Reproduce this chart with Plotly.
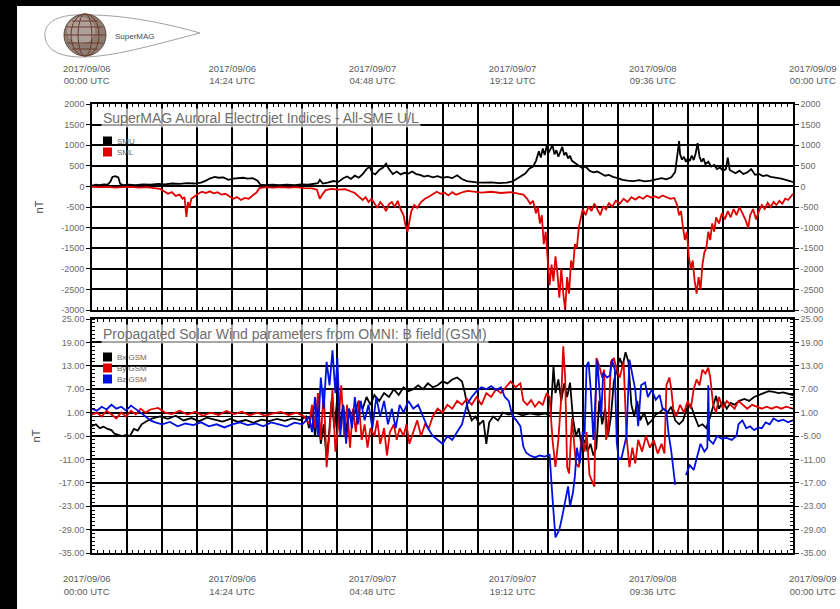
import pandas as pd
import plotly.graph_objects as go

# ---------------------------------------------------------------------------
# Data: hours after 2017-09-06 00:00 UTC and values in nT
# ---------------------------------------------------------------------------
smu_h = [0, 0.4, 0.8, 1.2, 1.6, 1.9, 2.1, 2.4, 2.7, 2.9,
         3.2, 3.8, 4.5, 5.2, 6.0, 6.8, 7.5, 8.2, 9.0, 9.8,
         10.5, 11.2, 11.7, 12.1, 12.6, 13.0, 13.5, 14.0, 14.5, 15.0,
         15.5, 16.0, 16.5, 17.0, 17.3, 17.8, 18.5, 19.3, 20.0, 20.8,
         21.5, 22.2, 22.8, 23.2, 23.4, 23.7, 24.2, 24.8, 25.3, 25.8,
         26.2, 26.6, 27.0, 27.4, 27.8, 28.2, 28.5, 28.8, 29.1, 29.5,
         29.9, 30.2, 30.5, 30.9, 31.3, 31.7, 32.1, 32.5, 32.9, 33.3,
         33.7, 34.1, 34.5, 35.0, 35.5, 36.0, 36.5, 37.0, 37.5, 38.0,
         38.5, 39.0, 39.5, 40.2, 41.0, 41.8, 42.6, 43.2, 43.7, 44.1,
         44.5, 44.9, 45.3, 45.6, 45.9, 46.1, 46.3, 46.5, 46.7, 46.9,
         47.1, 47.3, 47.5, 47.7, 47.9, 48.1, 48.3, 48.5, 48.7, 48.9,
         49.1, 49.3, 49.6, 49.9, 50.3, 50.7, 51.1, 51.5, 51.9, 52.3,
         52.7, 53.1, 53.5, 54.0, 54.5, 55.0, 55.6, 56.2, 56.8, 57.4,
         58.0, 58.5, 59.0, 59.5, 59.9, 60.1, 60.3, 60.4, 60.6, 60.8,
         61.0, 61.2, 61.4, 61.6, 61.8, 62.0, 62.2, 62.4, 62.6, 62.8,
         63.0, 63.3, 63.6, 63.9, 64.2, 64.5, 64.8, 65.1, 65.3, 65.5,
         65.8, 66.1, 66.5, 66.9, 67.3, 67.7, 68.1, 68.5, 68.9, 69.3,
         69.7, 70.1, 70.5, 70.9, 71.3, 71.7, 72.0]
smu_nt = [20, 40, 30, 50, 40, 120, 230, 250, 220, 60,
          30, 40, 30, 50, 40, 60, 50, 70, 60, 80,
          70, 90, 140, 190, 230, 210, 220, 160, 190, 200,
          210, 190, 200, 140, 40, 30, 40, 30, 40, 30,
          50, 40, 60, 80, 160, 70, 90, 130, 110, 200,
          240, 180, 260, 210, 300, 420, 480, 330, 290, 400,
          460, 550, 420, 300, 360, 290, 330, 310, 360, 300,
          280, 240, 260, 220, 250, 210, 230, 200, 270, 180,
          130, 110, 100, 90, 100, 80, 90, 120, 200, 260,
          310, 430, 480, 620, 850, 700, 920, 760, 980, 820,
          900, 1000, 780, 880, 720, 850, 960, 760, 820, 680,
          740, 620, 580, 520, 450, 480, 380, 340, 360, 300,
          260, 280, 230, 200, 160, 140, 130, 150, 120, 140,
          180, 200, 170, 220, 350, 700, 1100, 780, 650, 720,
          600, 680, 620, 750, 640, 800, 1050, 720, 600, 680,
          540, 600, 480, 520, 420, 460, 380, 420, 700, 400,
          360, 320, 380, 300, 340, 420, 280, 300, 250, 270,
          230, 220, 200, 180, 160, 130, 100]

sml_h = [0, 0.8, 1.6, 2.4, 3.2, 4.0, 4.8, 5.6, 6.4, 7.0,
         7.4, 7.8, 8.2, 8.6, 9.0, 9.3, 9.5, 9.7, 9.85, 10.0,
         10.2, 10.5, 10.9, 11.3, 11.7, 12.1, 12.5, 12.9, 13.3, 13.7,
         14.1, 14.5, 14.9, 15.3, 15.7, 16.1, 16.5, 16.9, 17.2, 17.8,
         18.6, 19.4, 20.2, 21.0, 21.8, 22.6, 23.1, 23.4, 23.7, 24.0,
         24.6, 25.3, 26.0, 26.6, 27.0, 27.4, 27.8, 28.1, 28.4, 28.7,
         29.0, 29.3, 29.6, 29.9, 30.2, 30.5, 30.8, 31.1, 31.4, 31.7,
         32.0, 32.2, 32.4, 32.6, 32.8, 33.1, 33.4, 33.8, 34.2, 34.6,
         35.0, 35.4, 35.8, 36.2, 36.6, 37.0, 37.4, 37.8, 38.2, 38.6,
         39.2, 40.0, 41.0, 42.0, 43.0, 43.8, 44.3, 44.7, 45.0, 45.3,
         45.6, 45.8, 46.0, 46.2, 46.4, 46.6, 46.8, 47.0, 47.2, 47.4,
         47.6, 47.8, 48.0, 48.2, 48.4, 48.6, 48.8, 49.0, 49.2, 49.4,
         49.6, 49.8, 50.0, 50.2, 50.4, 50.7, 51.0, 51.3, 51.6, 51.9,
         52.2, 52.5, 52.8, 53.1, 53.4, 53.8, 54.2, 54.6, 55.0, 55.4,
         55.8, 56.2, 56.6, 57.0, 57.4, 57.8, 58.2, 58.6, 59.0, 59.4,
         59.8, 60.1, 60.3, 60.5, 60.7, 60.9, 61.1, 61.3, 61.5, 61.7,
         61.9, 62.1, 62.3, 62.5, 62.7, 62.9, 63.1, 63.3, 63.5, 63.7,
         63.9, 64.1, 64.4, 64.7, 65.0, 65.3, 65.6, 65.9, 66.2, 66.5,
         66.8, 67.1, 67.4, 67.6, 67.9, 68.2, 68.5, 68.8, 69.1, 69.4,
         69.7, 70.0, 70.3, 70.6, 70.9, 71.2, 71.5, 71.8, 72.0]
sml_nt = [-10, -20, -10, -30, -20, -10, -30, -20, -40, -60,
          -120, -180, -140, -230, -200, -300, -260, -740, -380, -520,
          -300, -240, -180, -130, -160, -120, -170, -140, -200, -180,
          -240, -300, -260, -330, -280, -300, -220, -150, -40, -20,
          -30, -20, -30, -20, -40, -50, -80, -300, -180, -90,
          -60, -80, -70, -120, -160, -250, -330, -260, -380, -300,
          -420, -520, -380, -470, -600, -430, -380, -500, -350, -560,
          -700, -950, -1100, -800, -600, -450, -520, -380, -300, -250,
          -200, -130, -180, -150, -220, -140, -200, -160, -130, -110,
          -120, -150, -130, -160, -140, -170, -200, -300, -420, -350,
          -650, -500, -900, -700, -1400, -1100, -1800, -2400, -1900, -2300,
          -1700, -2100, -2700, -2000, -2600, -3000, -2200, -2600, -1800, -2000,
          -1400, -1500, -1000, -800, -550, -700, -480, -600, -420, -550,
          -700, -480, -560, -400, -500, -350, -420, -300, -380, -260,
          -320, -250, -300, -220, -270, -240, -280, -220, -260, -300,
          -280, -450, -700, -600, -1000, -1300, -1100, -1700, -2000, -1800,
          -2300, -2600, -2200, -2500, -1900, -1600, -1500, -1100, -1300, -900,
          -1100, -750, -900, -650, -800, -600, -750, -550, -700, -500,
          -650, -800, -1000, -700, -550, -800, -600, -450, -550, -400,
          -500, -380, -450, -350, -420, -300, -330, -250, -180]

bx_h = [0, 0.4, 0.8, 1.2, 1.6, 2.0, 2.3, 2.7, 3.1, 3.5,
        3.9, 4.3, 4.7, 5.1, 5.6, 6.2, 7.0, 7.8, 8.6, 9.4,
        10.2, 11.0, 11.8, 12.6, 13.4, 14.2, 15.0, 15.8, 16.6, 17.4,
        18.2, 19.0, 19.8, 20.6, 21.4, 22.0, 22.3, 22.6, 22.9, 23.2,
        23.5, 23.8, 24.1, 24.3, 24.6, 24.9, 25.2, 25.5, 25.8, 26.1,
        26.4, 26.7, 27.0, 27.4, 27.8, 28.2, 28.6, 29.0, 29.5, 30.0,
        30.5, 31.0, 31.5, 32.0, 32.5, 33.0, 33.5, 34.0, 34.5, 35.0,
        35.5, 36.0, 36.5, 37.0, 37.5, 38.0, 38.3, 38.6, 39.0, 39.4,
        39.8, 40.2, 40.5, 40.8, 41.2, 41.7, 42.2, 42.8, 43.5, 44.2,
        45.0, 45.8, 46.6, 47.1, 47.4, 47.6, 47.9, 48.2, 48.5, 48.8,
        49.1, 49.4, 49.7, 50.0, 50.3, 50.6, 50.9, 51.2, 51.5, 51.8,
        52.1, 52.4, 52.7, 53.0, 53.3, 53.6, 53.9, 54.2, 54.5, 54.8,
        55.1, 55.4, 55.7, 56.0, 56.3, 56.7, 57.1, 57.5, 57.9, 58.3,
        58.7, 59.1, 59.5, 59.9, 60.3, 60.7, 61.1, 61.5, 61.9, 62.3,
        62.7, 63.1, 63.5, 63.8, 64.1, 64.4, 64.8, 65.2, 65.6, 66.0,
        66.5, 67.0, 67.5, 68.0, 68.5, 69.0, 69.5, 70.0, 70.5, 71.0,
        71.5, 72.0]
bx_nt = [-2.5, -2.0, -3.0, -2.6, -3.2, -3.5, -4.4, -4.8, -5.0, -4.7,
         -5.0, -3.2, -3.6, -2.0, -1.2, -0.5, 0.0, -0.6, 0.2, -1.0,
         -0.4, -1.2, -0.3, -0.8, -1.3, -0.6, -1.4, -0.9, -1.6, -0.8,
         -1.2, -0.6, -1.1, -0.5, -0.9, 0.0, -3.0, 2.0, -5.0, 3.0,
         -7.0, -2.0, -11.0, -6.0, 4.0, -3.0, 5.0, -2.0, 3.0, -4.0,
         2.0, -1.0, 1.0, 4.0, 2.0, 5.0, 3.0, 5.5, 4.0, 6.0,
         5.0, 7.0, 5.5, 7.5, 6.5, 7.0, 8.0, 7.0, 8.5, 7.5,
         8.0, 9.0, 8.5, 9.5, 10.0, 9.0, 6.0, 2.0, -1.0, 0.0,
         -2.0, -1.0, -7.0, -1.5, 0.0, -1.0, 1.0, 0.5, 1.0, 0.3,
         0.8, 0.4, 0.8, 0.0, 12.8, 6.0, 9.5, 4.0, 8.5, 5.0,
         8.7, -0.5, -5.0, -3.0, -8.0, -6.0, -9.0, -7.0, -10.0, -8.0,
         4.0, -2.0, 2.0, -5.0, 0.0, 9.0, 12.0, 15.0, 13.0, 16.5,
         14.0, 3.0, 0.0, 4.0, -1.0, 1.0, -2.0, -1.0, 0.5, 1.0,
         2.0, 1.0, 2.5, -1.0, -2.0, -1.0, 2.0, 3.0, 0.0, -2.5,
         -2.0, -3.0, 0.0, 3.0, 5.3, 2.0, 4.0, 2.0, 3.5, 3.0,
         4.0, 4.5, 4.0, 5.0, 5.5, 6.0, 6.5, 6.3, 6.0, 6.2,
         5.8, 5.5]

by_h = [0, 0.5, 1.0, 1.5, 2.0, 2.5, 3.0, 3.5, 4.0, 4.5,
        5.0, 5.5, 6.0, 6.8, 7.5, 8.2, 9.0, 9.8, 10.6, 11.4,
        12.2, 13.0, 13.8, 14.6, 15.4, 16.2, 17.0, 17.8, 18.6, 19.4,
        20.2, 21.0, 21.8, 22.3, 22.6, 22.9, 23.2, 23.5, 23.8, 24.1,
        24.4, 24.7, 25.0, 25.3, 25.6, 25.9, 26.2, 26.5, 26.8, 27.1,
        27.4, 27.7, 28.0, 28.3, 28.6, 29.0, 29.3, 29.6, 30.0, 30.3,
        30.6, 31.0, 31.3, 31.6, 32.0, 32.3, 32.6, 33.0, 33.4, 33.8,
        34.2, 34.6, 35.0, 35.5, 36.0, 36.5, 37.0, 37.5, 38.0, 38.5,
        39.0, 39.5, 40.0, 40.5, 41.0, 41.5, 42.0, 42.5, 43.0, 43.5,
        44.0, 44.3, 44.7, 45.1, 45.5, 45.9, 46.3, 46.7, 47.0, 47.3,
        47.6, 47.9, 48.2, 48.4, 48.6, 48.8, 49.0, 49.3, 49.5, 49.7,
        50.0, 50.3, 50.6, 50.8, 51.1, 51.4, 51.6, 51.8, 52.1, 52.4,
        52.6, 52.8, 53.0, 53.3, 53.6, 53.9, 54.2, 54.6, 54.9, 55.2,
        55.5, 55.8, 56.1, 56.5, 56.9, 57.3, 57.7, 58.1, 58.5, 58.8,
        59.0, 59.3, 59.5, 59.7, 60.0, 60.4, 60.8, 61.2, 61.5, 61.8,
        62.1, 62.4, 62.7, 63.0, 63.3, 63.5, 63.8, 64.1, 64.4, 64.8,
        65.2, 65.6, 66.0, 66.4, 66.8, 67.3, 67.8, 68.3, 68.8, 69.3,
        69.8, 70.3, 70.8, 71.3, 71.8, 72.0]
by_nt = [0.5, 1.0, 0.0, 1.5, 0.5, -0.5, 1.0, 0.0, 1.5, 0.5,
         2.0, 1.0, 1.8, 2.2, 1.0, 0.6, 1.5, 0.5, 1.2, 0.2,
         1.0, 0.4, 1.4, 0.6, 1.2, 0.3, 1.0, 0.2, 0.8, 1.2,
         0.4, 1.0, 0.0, -2.0, 3.0, -3.0, 6.0, -6.0, 7.0, -13.0,
         -4.0, 7.0, -9.0, -2.0, 8.0, -5.0, 3.0, -8.0, 2.0, -4.0,
         4.0, -6.0, -2.0, -8.0, -3.0, -5.0, -1.0, -7.0, -3.0, -10.0,
         -4.0, -2.0, -6.0, -3.0, -5.0, -2.0, -7.0, -4.0, -1.0, -5.0,
         -2.0, -3.0, 0.0, 2.0, 1.0, 3.0, 2.0, 4.0, 3.0, 4.5,
         3.0, 5.0, 3.0, 6.0, 5.0, 7.0, 6.0, 7.5, 9.0, 7.5,
         8.5, 4.0, 3.0, 4.2, 2.5, 3.8, 3.0, 6.0, 5.0, -6.0,
         -12.9, -6.0, 5.0, 18.0, 10.0, -13.0, -14.6, -0.5, -6.0, -12.0,
         -13.0, -5.0, -9.0, -4.0, -15.0, -17.0, -18.0, 15.0, 13.0, 10.0,
         12.0, -6.0, -4.0, 14.0, 15.0, 12.0, 10.0, 14.0, -5.0, -13.0,
         -8.0, -12.0, -6.0, -9.0, -5.0, -8.0, -6.0, -9.5, -7.0, -9.5,
         8.0, 10.0, 7.0, 2.0, 0.0, 3.0, 1.0, 4.0, 2.0, 7.0,
         9.5, 8.0, 12.0, 11.0, 12.5, 10.0, 3.0, 1.0, 5.0, 2.0,
         4.0, 3.0, 2.0, 4.0, 3.0, 2.0, 3.0, 2.5, 2.0, 2.5,
         2.0, 2.5, 2.0, 2.5, 2.0, 2.0]

# None marks the gap in the propagated Bz record
bz_h = [0, 0.5, 1.0, 1.5, 2.0, 2.5, 3.0, 3.5, 4.0, 4.5,
        5.0, 5.5, 6.0, 6.5, 7.2, 8.0, 8.8, 9.6, 10.4, 11.2,
        12.0, 12.8, 13.6, 14.4, 15.2, 16.0, 16.8, 17.6, 18.4, 19.2,
        20.0, 20.8, 21.6, 22.0, 22.3, 22.6, 22.9, 23.2, 23.5, 23.8,
        24.1, 24.4, 24.7, 25.0, 25.2, 25.5, 25.8, 26.1, 26.4, 26.7,
        27.0, 27.3, 27.6, 28.0, 28.4, 28.8, 29.2, 29.6, 30.0, 30.4,
        30.8, 31.2, 31.6, 32.0, 32.5, 33.0, 33.5, 34.0, 34.5, 35.0,
        35.5, 36.0, 36.5, 37.0, 37.5, 38.0, 38.5, 39.0, 39.5, 40.0,
        40.5, 41.0, 41.5, 42.0, 42.4, 42.8, 43.2, 43.6, 44.0, 44.3,
        44.6, 45.0, 45.5, 46.0, 46.5, 47.0, 47.3, 47.6, 47.8, 48.0,
        48.3, 48.6, 48.9, 49.1, 49.4, 49.6, 49.8, 50.1, 50.4, 50.6,
        50.8, 51.0, 51.2, 51.5, 51.9, 52.3, 52.5, 52.9, 53.2, 53.4,
        53.7, 53.9, 54.1, 54.4, 54.9, 55.2, 55.5, 55.8, 56.1, 56.4,
        56.8, 57.1, 57.5, 57.9, 58.3, 58.6, 59.0, 59.2, 59.5, 59.7,
        59.9, 60.4, 61.0, 61.4, 61.8, 62.2, 62.5, 62.9, 63.2, 63.3,
        63.4, 63.8, 64.2, 64.7, 65.2, 65.7, 66.2, 66.4, 66.8, 67.2,
        67.6, 68.0, 68.4, 68.8, 69.2, 69.6, 70.0, 70.5, 71.0, 71.5,
        72.0]
bz_nt = [2.0, 1.5, 2.5, 1.8, 3.0, 2.0, 2.5, 1.5, 2.8, 2.0,
         1.0, 0.0, -1.0, -1.5, -2.0, -1.4, -2.5, -1.8, -2.2, -1.5,
         -2.5, -2.0, -2.8, -2.0, -1.5, -2.2, -1.8, -2.5, -1.5, -2.0,
         -2.6, -1.6, -2.0, -1.0, 0.0, -4.0, 5.0, -5.0, 10.0, 2.0,
         14.0, 8.0, 17.0, 6.0, 15.0, -5.0, 3.0, -7.0, 2.0, -3.0,
         5.0, -2.0, 4.0, -1.0, 3.0, -3.0, 5.0, 0.0, 4.0, -2.0,
         2.0, -3.0, 3.0, 1.0, 4.0, 2.0, 3.0, 0.0, -3.0, -5.0,
         -6.0, -7.0, -5.0, -6.0, -4.0, -2.0, 3.0, 5.0, 6.5, 7.5,
         7.0, 7.8, 6.8, 7.5, 5.0, 4.0, 0.0, -1.0, -2.5, -7.7,
         -9.3, -10.0, -10.5, -10.0, -10.3, -9.8, -21.0, -31.0, -30.0, -29.0,
         -25.6, -22.0, -17.9, -23.0, -19.5, -15.3, -8.0, -12.0, -4.0, -4.5,
         13.0, 14.0, 7.7, -6.0, 14.6, 0.0, 11.2, 10.0, 10.5, 14.6,
         12.0, -6.7, -11.0, -10.5, -5.0, 14.6, 10.3, 6.9, -2.5, 8.0,
         8.7, 5.0, 6.9, 4.3, 5.5, 2.0, 1.5, -4.0, -9.0, -14.0,
         -17.5, None, -15.0, -12.5, -13.7, -9.5, -7.0, -9.0, -8.0, 8.0,
         -6.0, -7.0, -5.0, -5.7, -5.5, -6.0, -5.0, -2.0, -1.0, -3.0,
         -2.5, -3.5, -2.8, -3.0, -1.5, -2.0, -0.5, -1.2, -0.8, -1.5,
         -1.0]

# Axis ticks and labels
x_tick_labels = ["2017/09/06<br>00:00 UTC", "2017/09/06<br>14:24 UTC",
                 "2017/09/07<br>04:48 UTC", "2017/09/07<br>19:12 UTC",
                 "2017/09/08<br>09:36 UTC", "2017/09/09<br>00:00 UTC"]
sme_ticks = [2000, 1500, 1000, 500, 0, -500, -1000, -1500, -2000, -2500, -3000]
b_ticks = [25, 19, 13, 7, 1, -5, -11, -17, -23, -29, -35]

for hh, vv in [(smu_h, smu_nt), (sml_h, sml_nt), (bx_h, bx_nt),
               (by_h, by_nt), (bz_h, bz_nt)]:
    assert len(hh) == len(vv), (len(hh), len(vv))

# ---------------------------------------------------------------------------
T0 = pd.Timestamp("2017-09-06 00:00:00")
T1 = pd.Timestamp("2017-09-09 00:00:00")


def times(hours):
    return [T0 + pd.Timedelta(hours=h) for h in hours]


W, H = 840, 609
ML, MR, MT, MB = 92, 47, 104, 56
PW = W - ML - MR
PH = H - MT - MB


def px(x):
    return (x - ML) / PW


def py(y):
    return (H - MB - y) / PH


FONT = "Liberation Sans, Arial, sans-serif"
TICK_GREY = "#6a6a6a"
NB = "\u00a0"


def edge_label(text, pad_left=0, pad_right=0):
    # nudge a two-line date label sideways with non-breaking spaces
    return "<br>".join(NB * pad_left + part + NB * pad_right
                       for part in text.split("<br>"))


grid_t = [T0 + pd.Timedelta(minutes=216 * i) for i in range(21)]
grid_text = [x_tick_labels[i // 4] if i % 4 == 0 else "" for i in range(21)]
grid_text[0] = edge_label(grid_text[0], pad_right=4)
grid_text[-1] = edge_label(grid_text[-1], pad_left=15)

fig = go.Figure()

# Auroral electrojet indices
fig.add_trace(go.Scatter(x=times(smu_h), y=smu_nt, mode="lines",
                         line=dict(color="black", width=1.8),
                         xaxis="x", yaxis="y", hoverinfo="skip"))
fig.add_trace(go.Scatter(x=times(sml_h), y=sml_nt, mode="lines",
                         line=dict(color="#e00000", width=1.8),
                         xaxis="x", yaxis="y", hoverinfo="skip"))
# IMF components
fig.add_trace(go.Scatter(x=times(bx_h), y=bx_nt, mode="lines",
                         line=dict(color="black", width=1.8),
                         xaxis="x2", yaxis="y2", hoverinfo="skip"))
fig.add_trace(go.Scatter(x=times(by_h), y=by_nt, mode="lines",
                         line=dict(color="#e00000", width=1.8),
                         xaxis="x2", yaxis="y2", hoverinfo="skip"))
fig.add_trace(go.Scatter(x=times(bz_h), y=bz_nt, mode="lines",
                         line=dict(color="#0010e0", width=1.8),
                         connectgaps=False,
                         xaxis="x2", yaxis="y2", hoverinfo="skip"))
# right-hand label axes
fig.add_trace(go.Scatter(x=[T0], y=[None], xaxis="x", yaxis="y3",
                         showlegend=False, hoverinfo="skip"))
fig.add_trace(go.Scatter(x=[T0], y=[None], xaxis="x2", yaxis="y4",
                         showlegend=False, hoverinfo="skip"))

xcommon = dict(
    type="date", range=[T0, T1], tickmode="array", tickvals=grid_t,
    ticktext=grid_text, showgrid=True, gridcolor="black", gridwidth=1.6,
    showline=True, linecolor="black", linewidth=1.6, mirror="ticks",
    ticks="inside", ticklen=3, tickcolor="black", tickwidth=1.2,
    minor=dict(tickmode="linear", tick0="2017-09-06 00:00:00",
               dtick=36 * 60 * 1000, ticks="inside", ticklen=3,
               tickcolor="black", tickwidth=1.2, showgrid=False),
    tickfont=dict(family=FONT, size=9.5, color="#5a5a5a"),
    zeroline=False, fixedrange=True,
)
top_domain = [py(310), 1.0]
bot_domain = [0.0, py(319)]

ycommon = dict(
    showgrid=True, gridcolor="black", gridwidth=1.6, showline=True,
    linecolor="black", linewidth=1.6, ticks="outside", ticklen=4,
    tickcolor="black", tickwidth=1.2, tickmode="array",
    tickfont=dict(family=FONT, size=9, color=TICK_GREY), fixedrange=True,
)

fig.update_layout(
    width=W, height=H, autosize=False, template="none",
    margin=dict(l=ML, r=MR, t=MT, b=MB, pad=0),
    paper_bgcolor="white", plot_bgcolor="white", showlegend=False,
    xaxis=dict(**xcommon, side="top", anchor="y", domain=[0, 1],
               ticklabelstandoff=14),
    xaxis2=dict(**xcommon, side="bottom", anchor="y2", domain=[0, 1],
                matches="x", ticklabelstandoff=16),
    yaxis=dict(**ycommon, domain=top_domain, anchor="x", range=[-3000, 2000],
               tickvals=sme_ticks, ticktext=[str(v) for v in sme_ticks],
               zeroline=False, mirror=True,
               title=dict(text="nT", standoff=16,
                          font=dict(family=FONT, size=11, color="#444444"))),
    yaxis3=dict(**ycommon, overlaying="y", side="right", anchor="x",
                range=[-3000, 2000], tickvals=sme_ticks,
                ticktext=[str(v) for v in sme_ticks], zeroline=False),
    yaxis2=dict(**ycommon, domain=bot_domain, anchor="x2", range=[-35, 25],
                tickvals=b_ticks, ticktext=[f"{v:.2f}" for v in b_ticks],
                zeroline=True, zerolinecolor="black", zerolinewidth=1.2,
                mirror=True,
                minor=dict(tickmode="linear", tick0=0, dtick=1, ticks="inside",
                           ticklen=3, tickcolor="black", tickwidth=1,
                           showgrid=False),
                title=dict(text="nT", standoff=16,
                           font=dict(family=FONT, size=11, color="#444444"))),
    yaxis4=dict(**ycommon, overlaying="y2", side="right", anchor="x2",
                range=[-35, 25], tickvals=b_ticks,
                ticktext=[f"{v:.2f}" for v in b_ticks], zeroline=False,
                minor=dict(tickmode="linear", tick0=0, dtick=1, ticks="inside",
                           ticklen=3, tickcolor="black", tickwidth=1,
                           showgrid=False)),
)

annotations = []
shapes = []

# panel titles
for text, ypix in [("SuperMAG Auroral Electrojet Indices - All-SME U/L", 118),
                   ("Propagated Solar Wind parameters from OMNI: B field (GSM)", 334)]:
    annotations.append(dict(
        text=text, xref="paper", yref="paper", x=px(101), y=py(ypix),
        xanchor="left", yanchor="middle", showarrow=False,
        bgcolor="rgba(255,255,255,0.65)", borderpad=1,
        font=dict(family=FONT, size=14, color="#6e6e6e")))

# legend keys
legend_items = [("SMU", "black", 141), ("SML", "#e00000", 152),
                ("Bx GSM", "black", 357), ("By GSM", "#e00000", 368),
                ("Bz GSM", "#0010e0", 379)]
for label, color, ypix in legend_items:
    shapes.append(dict(type="rect", xref="paper", yref="paper",
                       x0=px(103), x1=px(112), y0=py(ypix + 4.5),
                       y1=py(ypix - 4.5),
                       fillcolor=color, line=dict(width=0), layer="above"))
    annotations.append(dict(text=label, xref="paper", yref="paper",
                            x=px(115), y=py(ypix), xanchor="left",
                            yanchor="middle", showarrow=False,
                            font=dict(family=FONT, size=8, color="#666666")))


# SuperMAG logo: teardrop outline, globe and name
def pth(points):
    cmd = []
    for c, pts in points:
        cmd.append(c + " " + " ".join(f"{px(a):.5f},{py(b):.5f}" for a, b in pts))
    return " ".join(cmd) + " Z"


shapes.append(dict(type="path", xref="paper", yref="paper", layer="above",
                   path=pth([("M", [(200, 33)]),
                             ("C", [(150, 19), (112, 14), (76, 15)]),
                             ("C", [(52, 16), (44, 26), (45, 36)]),
                             ("C", [(46, 48), (56, 57), (82, 57)]),
                             ("C", [(112, 57), (150, 46), (200, 33)])]),
                   line=dict(color="#a0a0a0", width=1)))
shapes.append(dict(type="circle", xref="paper", yref="paper", layer="above",
                   x0=px(64), x1=px(106), y0=py(56), y1=py(14),
                   fillcolor="#8e7d73", line=dict(color="#5e4c42", width=1)))
shapes.append(dict(type="circle", xref="paper", yref="paper", layer="above",
                   x0=px(67), x1=px(95), y0=py(44), y1=py(17),
                   fillcolor="rgba(235,225,220,0.35)", line=dict(width=0)))
for ya, half in [(21, 13), (27, 18), (35, 21), (43, 18), (49, 13)]:
    shapes.append(dict(type="line", xref="paper", yref="paper", layer="above",
                       x0=px(85 - half), x1=px(85 + half), y0=py(ya), y1=py(ya),
                       line=dict(color="#6a3a2c", width=1)))
for half in [7, 14]:
    shapes.append(dict(type="circle", xref="paper", yref="paper", layer="above",
                       x0=px(85 - half), x1=px(85 + half), y0=py(56), y1=py(14),
                       line=dict(color="#6a3a2c", width=1)))
annotations.append(dict(text="SuperMAG", xref="paper", yref="paper",
                        x=px(113), y=py(36), xanchor="left", yanchor="middle",
                        showarrow=False,
                        font=dict(family=FONT, size=8, color="#3e4a5a")))

# dark frame along the left and top edges
shapes.append(dict(type="rect", xref="paper", yref="paper", layer="above",
                   x0=px(0), x1=px(17), y0=py(H), y1=py(0),
                   fillcolor="black", line=dict(width=0)))
shapes.append(dict(type="rect", xref="paper", yref="paper", layer="above",
                   x0=px(0), x1=px(W), y0=py(6), y1=py(0),
                   fillcolor="black", line=dict(width=0)))

fig.update_layout(annotations=annotations, shapes=shapes)
fig.write_html("out.html")
